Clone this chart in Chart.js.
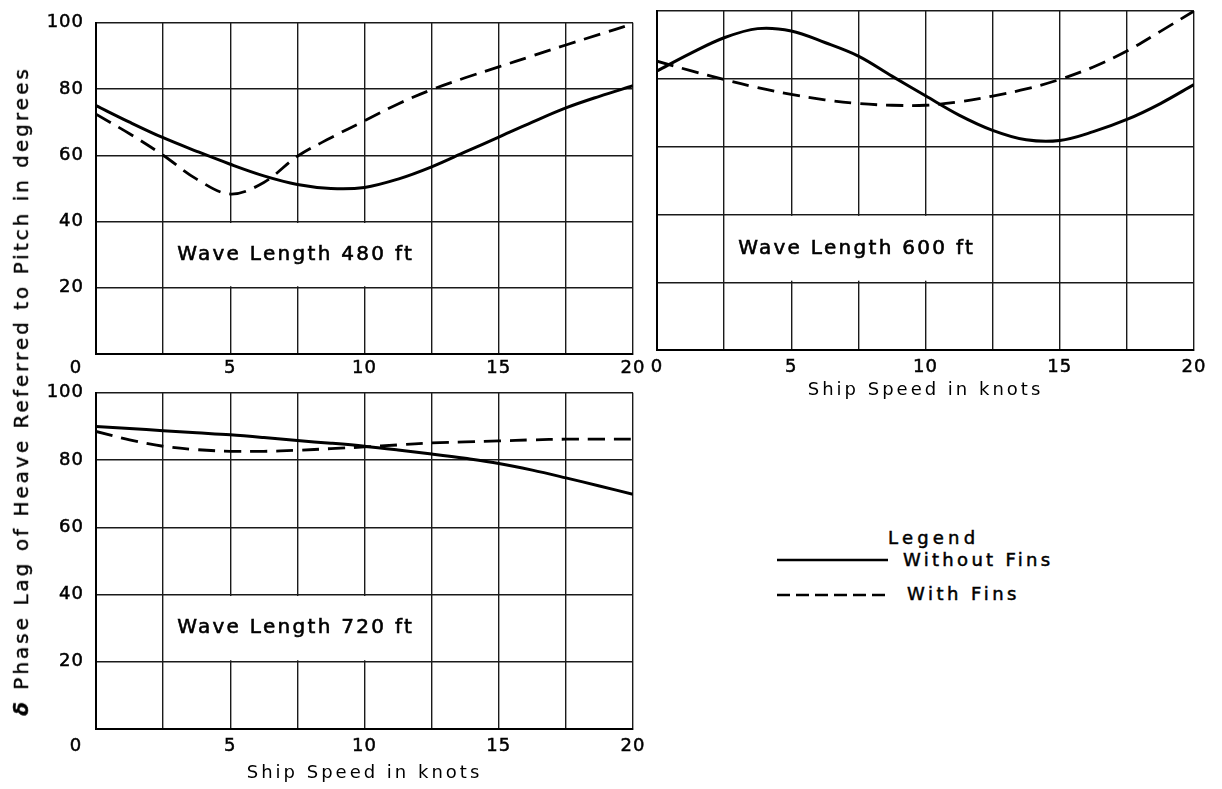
<!DOCTYPE html>
<html>
<head>
<meta charset="utf-8">
<script src="https://cdn.jsdelivr.net/npm/chart.js@4.4.1/dist/chart.umd.min.js"></script>
<style>
    body {
        margin: 0;
        width: 1222px;
        height: 789px;
        position: relative;
        overflow: hidden;
        background: #fff;
        color: #000;
        font-family: 'DejaVu Sans', sans-serif;
    }
    canvas {
        position: absolute;
    }
    #y-title {
        position: absolute;
        left: 21px;
        top: 391px;
        transform: translate(-50%, -50%) rotate(-90deg);
        white-space: nowrap;
        font-size: 20px;
        letter-spacing: 3px;
        -webkit-text-stroke: 0.4px #000;
    }
    .legend-text {
        position: absolute;
        font-size: 18px;
        white-space: nowrap;
        line-height: 22px;
        -webkit-text-stroke: 0.5px #000;
    }
</style>
</head>
<body>
<canvas id="chart480" width="660" height="400" style="left:0;top:0"></canvas>
<canvas id="chart600" width="582" height="420" style="left:640px;top:0"></canvas>
<canvas id="chart720" width="660" height="419" style="left:0;top:370px"></canvas>

<div id="y-title"><b><i>δ</i></b> Phase Lag of Heave Referred to Pitch in degrees</div>

<div class="legend-text" style="left:888px;top:527px;letter-spacing:4.2px">Legend</div>
<svg style="position:absolute;left:770px;top:550px" width="125" height="60">
    <line x1="7" y1="10" x2="118" y2="10" stroke="#000" stroke-width="2.6" />
    <line x1="7" y1="45" x2="116" y2="45" stroke="#000" stroke-width="2.6" stroke-dasharray="13 6" />
</svg>
<div class="legend-text" style="left:903px;top:549px;letter-spacing:3.3px">Without Fins</div>
<div class="legend-text" style="left:907px;top:583px;letter-spacing:3.5px">With Fins</div>

<script>
// 船速 (knots)
const speeds = [0, 1.25, 2.5, 3.75, 5, 6.25, 7.5, 8.75, 10, 11.25, 12.5, 13.75, 15, 16.25, 17.5, 18.75, 20];

// 波長 480 ft
const without480 = [75, 70, 65.3, 61.2, 57.3, 53.8, 51.2, 50, 50.3, 52.8, 56.5, 61, 65.5, 70, 74.3, 77.8, 81];
const with480 = [72.4, 66.5, 60, 52.8, 48.3, 51.8, 59.7, 65.3, 70.4, 75.5, 79.8, 83.4, 86.7, 90, 93.3, 96.5, 99.7];

// 波長 600 ft
const without600 = [82.3, 87.5, 92.1, 94.8, 94.1, 90.7, 86.7, 80.8, 75, 69.3, 64.8, 62, 61.8, 64.4, 68, 72.7, 78.3];
const with600 = [85.2, 82.4, 79.8, 77.4, 75.4, 73.8, 72.7, 72.2, 72.2, 73.2, 74.9, 77, 79.8, 83.5, 88.2, 94, 100];

// 波長 720 ft
const without720 = [90, 89.4, 88.7, 88.1, 87.5, 86.7, 85.8, 85, 84.1, 83, 81.8, 80.5, 79, 77, 74.7, 72.3, 69.8];
const with720 = [88.5, 86, 84.1, 83.1, 82.6, 82.6, 82.9, 83.4, 83.9, 84.5, 85.1, 85.4, 85.7, 86, 86.2, 86.2, 86.2];

// 目盛りラベル
const speedTicks = [0, 5, 10, 15, 20];
const degreeTicks = [20, 40, 60, 80, 100];

const FONT = 'DejaVu Sans';

Chart.defaults.font.family = FONT;
Chart.defaults.font.size = 18;
Chart.defaults.color = '#000';

/**
 * 波長ラベルの白抜き枠と、左端の 0 ラベルを描きます。
 */
const panelLabelPlugin = {
    id: 'panelLabel',
    beforeDraw: (chart) => {
        chart.ctx.letterSpacing = '3px';
    },
    beforeDatasetsDraw: (chart, args, opts) => {
        const ctx = chart.ctx;
        const x = chart.scales.x;
        const y = chart.scales.y;

        const left = x.getPixelForValue(2.5);
        const right = x.getPixelForValue(12.5);
        const top = y.getPixelForValue(40);
        const bottom = y.getPixelForValue(20);

        ctx.save();
        ctx.fillStyle = '#fff';
        ctx.fillRect(left + 1.5, top + 1.5, right - left - 3, bottom - top - 3);

        ctx.fillStyle = '#000';
        ctx.strokeStyle = '#000';
        ctx.lineWidth = 0.6;
        ctx.font = '20px "' + FONT + '"';
        ctx.letterSpacing = '2.3px';
        ctx.textAlign = 'left';
        ctx.textBaseline = 'middle';
        ctx.fillText(opts.text, left + 14, y.getPixelForValue(30));
        ctx.strokeText(opts.text, left + 14, y.getPixelForValue(30));
        ctx.restore();

        ctx.letterSpacing = '1px';
    },
    afterDraw: (chart, args, opts) => {
        if (!opts.zeroLeft) {
            return;
        }
        const ctx = chart.ctx;
        const area = chart.chartArea;
        const padding = chart.options.scales.x.ticks.padding;

        ctx.save();
        ctx.fillStyle = '#000';
        ctx.strokeStyle = '#000';
        ctx.lineWidth = 0.5;
        ctx.font = '18px "' + FONT + '"';
        ctx.letterSpacing = '1px';
        ctx.textAlign = 'center';
        ctx.textBaseline = 'middle';
        ctx.fillText('0', area.left - 20, area.bottom + padding + 10.8);
        ctx.strokeText('0', area.left - 20, area.bottom + padding + 10.8);
        ctx.restore();
    },
};

/**
 * 速度と値の配列から点のリストを作ります。
 * @param {Array<number>} values
 */
const toPoints = (values) => values.map((v, i) => ({ x: speeds[i], y: v }));

/**
 * グラフを生成します。
 * @param {string} id canvas の id
 * @param {string} text 波長ラベル
 * @param {Array<number>} withoutFins フィンなし
 * @param {Array<number>} withFins フィンあり
 * @param {*} layout 配置の指定
 */
const createChart = (id, text, withoutFins, withFins, layout) => {
    const config = {
        type: 'line',
        data: {
            datasets: [
                {
                    label: 'Without Fins',
                    data: toPoints(withoutFins),
                    borderColor: '#000',
                    borderWidth: 3,
                    pointRadius: 0,
                    tension: 0.35,
                },
                {
                    label: 'With Fins',
                    data: toPoints(withFins),
                    borderColor: '#000',
                    borderWidth: 2.8,
                    borderDash: [17, 9],
                    pointRadius: 0,
                    tension: 0.35,
                },
            ],
        },
        options: {
            responsive: false,
            animation: false,
            layout: {
                padding: layout.padding,
            },
            scales: {
                x: {
                    type: 'linear',
                    min: 0,
                    max: 20,
                    afterFit: (scale) => {
                        scale.height = layout.xHeight;
                    },
                    ticks: {
                        stepSize: 2.5,
                        autoSkip: false,
                        maxRotation: 0,
                        padding: layout.tickPadding,
                        z: 1,
                        textStrokeColor: '#000',
                        textStrokeWidth: 0.5,
                        callback: (v) => {
                            if (layout.zeroLeft && v === 0) {
                                return '';
                            }
                            return speedTicks.includes(v) ? String(v) : '';
                        },
                    },
                    grid: {
                        color: '#1a1a1a',
                        lineWidth: 1.4,
                        drawTicks: false,
                    },
                    border: {
                        color: '#000',
                        width: 2,
                    },
                    title: {
                        display: layout.showTitle,
                        text: 'Ship Speed in knots',
                        font: { size: 18 },
                        padding: { top: 0, bottom: 0 },
                    },
                },
                y: {
                    min: 0,
                    max: 100,
                    afterFit: (scale) => {
                        scale.width = layout.yWidth;
                    },
                    ticks: {
                        stepSize: 20,
                        display: layout.showY,
                        padding: 12,
                        z: 1,
                        textStrokeColor: '#000',
                        textStrokeWidth: 0.5,
                        callback: (v) => (degreeTicks.includes(v) ? String(v) : ''),
                    },
                    grid: {
                        color: '#1a1a1a',
                        lineWidth: 1.4,
                        drawTicks: false,
                    },
                    border: {
                        color: '#000',
                        width: 2,
                    },
                },
            },
            plugins: {
                legend: { display: false },
                tooltip: { enabled: false },
                panelLabel: {
                    text: text,
                    zeroLeft: layout.zeroLeft,
                },
            },
        },
        plugins: [panelLabelPlugin],
    };

    return new Chart(document.getElementById(id), config);
};

createChart('chart480', 'Wave Length 480 ft', without480, with480, {
    padding: { top: 16, right: 27, bottom: 0, left: 0 },
    yWidth: 96,
    xHeight: 46,
    tickPadding: 4,
    showY: true,
    showTitle: false,
    zeroLeft: true,
});

createChart('chart600', 'Wave Length 600 ft', without600, with600, {
    padding: { top: 11, right: 28, bottom: 19, left: 0 },
    yWidth: 17,
    xHeight: 51,
    tickPadding: 7,
    showY: false,
    showTitle: true,
    zeroLeft: false,
});

createChart('chart720', 'Wave Length 720 ft', without720, with720, {
    padding: { top: 19, right: 27, bottom: 5, left: 0 },
    yWidth: 96,
    xHeight: 55,
    tickPadding: 7,
    showY: true,
    showTitle: true,
    zeroLeft: true,
});
</script>
</body>
</html>
